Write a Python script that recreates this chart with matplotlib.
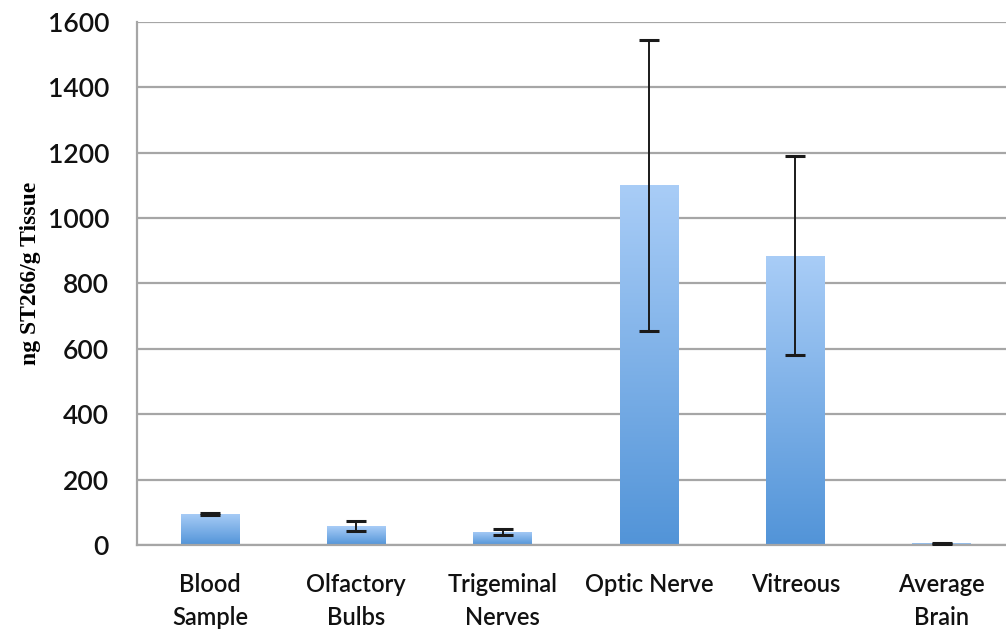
import numpy as np
import matplotlib
matplotlib.use("Agg")
import matplotlib.pyplot as plt
from matplotlib.colors import LinearSegmentedColormap

# values
categories = ["Blood\nSample", "Olfactory\nBulbs", "Trigeminal\nNerves",
              "Optic Nerve", "Vitreous", "Average\nBrain"]
means = [95, 58, 40, 1100, 885, 5]
errors = [3, 14, 8, 445, 305, 2]
yticks = [0, 200, 400, 600, 800, 1000, 1200, 1400, 1600]

fig = plt.figure(figsize=(10.06, 6.37), dpi=100)
ax = fig.add_axes([0.136, 0.1444, 0.864, 0.8211])

x = np.arange(len(categories))
bars = ax.bar(x, means, width=0.4, color="#7fb2ec", zorder=2)

# vertical gradient, light on top, darker at the base
cmap = LinearSegmentedColormap.from_list("bluegrad", ["#5294d8", "#a9cdf7"])
grad = np.linspace(0, 1, 256).reshape(-1, 1)
for b in bars:
    bx, by = b.get_x(), b.get_y()
    bw, bh = b.get_width(), b.get_height()
    im = ax.imshow(grad, cmap=cmap, origin="lower", aspect="auto",
                   extent=[bx, bx + bw, by, by + bh], zorder=2)
    im.set_clip_path(b)

ax.errorbar(x, means, yerr=errors, fmt="none", ecolor="#1a1a1a",
            elinewidth=1.4, capsize=7.5, capthick=2.2, zorder=3)

ax.set_xlim(-0.5, 5.44)
ax.set_ylim(0, 1600)
ax.set_yticks(yticks)
ax.set_xticks(x)
ax.set_xticklabels(categories, fontsize=17, family="Lato", linespacing=1.55)
for lbl in ax.get_yticklabels():
    lbl.set_fontsize(19)
    lbl.set_family("Lato")
    lbl.set_fontweight("semibold")
for lbl in ax.get_xticklabels():
    lbl.set_fontweight("semibold")

ax.grid(axis="y", color="#a6a6a6", linewidth=1.6, zorder=0)
ax.set_axisbelow(True)
for s in ["top", "right"]:
    ax.spines[s].set_visible(False)
ax.spines["left"].set_color("#a6a6a6")
ax.spines["bottom"].set_color("#a6a6a6")
ax.spines["left"].set_linewidth(1.6)
ax.spines["bottom"].set_linewidth(1.6)
ax.tick_params(axis="both", length=0, colors="#111111")
ax.tick_params(axis="y", pad=20)
ax.tick_params(axis="x", pad=20)

ax.set_ylabel("ng ST266/g Tissue", fontsize=17, fontweight="bold",
              family="Liberation Serif")
ax.yaxis.set_label_coords(-0.11, 0.52)

fig.savefig("out.png", dpi=100)
